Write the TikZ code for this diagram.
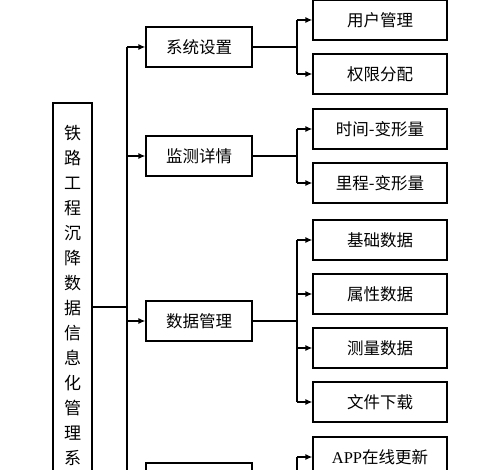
\documentclass[tikz,border=0pt]{standalone}
\usepackage{fontspec}
\setmainfont{Liberation Serif}
\newfontfamily\cjk{Noto Sans CJK SC}
\usetikzlibrary{arrows.meta}

\tikzset{
  link/.style={line width=1.3pt},
  tip/.style={link, -{Latex[length=7pt,width=6pt]}},
  box/.style={draw, link, minimum width=106pt, minimum height=40pt, inner sep=0pt,
    font=\cjk\fontsize{16.5}{18}\selectfont},
  leaf/.style={box, minimum width=134pt}
}

\begin{document}
\begin{tikzpicture}[x=1pt, y=-1pt]
		%%Frame
		\useasboundingbox (0,0) rectangle (500,470);
		\clip (0,0) rectangle (500,470);
		%%Root
		\node[draw, link, minimum width=39pt, minimum height=408pt] (root) at (72.5,307) {};
		\node[anchor=north, align=center, inner sep=0pt,
		  font=\cjk\fontsize{17}{25}\selectfont] (title) at (72.5,125)
		  {铁\\路\\工\\程\\沉\\降\\数\\据\\信\\息\\化\\管\\理\\系};
		%%Modules
		\node[box] (sys) at (199,47) {系统设置};
		\node[box] (mon) at (199,156) {监测详情};
		\node[box] (dat) at (199,321) {数据管理};
		\node[box] (app) at (199,483) {};
		%%Functions
		\node[leaf] (user) at (380,20) {用户管理};
		\node[leaf] (perm) at (380,74) {权限分配};
		\node[leaf] (time) at (380,129) {时间-变形量};
		\node[leaf] (mile) at (380,183) {里程-变形量};
		\node[leaf] (base) at (380,240) {基础数据};
		\node[leaf] (attr) at (380,294) {属性数据};
		\node[leaf] (meas) at (380,348) {测量数据};
		\node[leaf] (file) at (380,402) {文件下载};
		\node[leaf] (upd) at (380,457) {{\rmfamily APP}在线更新};
		%%Trunk
		\coordinate (trunk) at (127,0);
		\coordinate (fork) at (297,0);
		\draw[link] (root.east) -- (root.east -| trunk);
		\draw[link] (trunk |- sys) -- (trunk |- app);
		\foreach \m in {sys,mon,dat,app}
		  \draw[tip] (trunk |- \m) -- (\m.west);
		%%Branches
		\foreach \m/\a/\b in {sys/user/perm, mon/time/mile, dat/base/file, app/upd/app}
		{
		  \draw[link] (\m.east) -- (\m.east -| fork);
		  \draw[link] (fork |- \a) -- (fork |- \b);
		}
		\foreach \f in {user,perm,time,mile,base,attr,meas,file,upd}
		  \draw[tip] (fork |- \f) -- (\f.west);
		\end{tikzpicture}
\end{document}
